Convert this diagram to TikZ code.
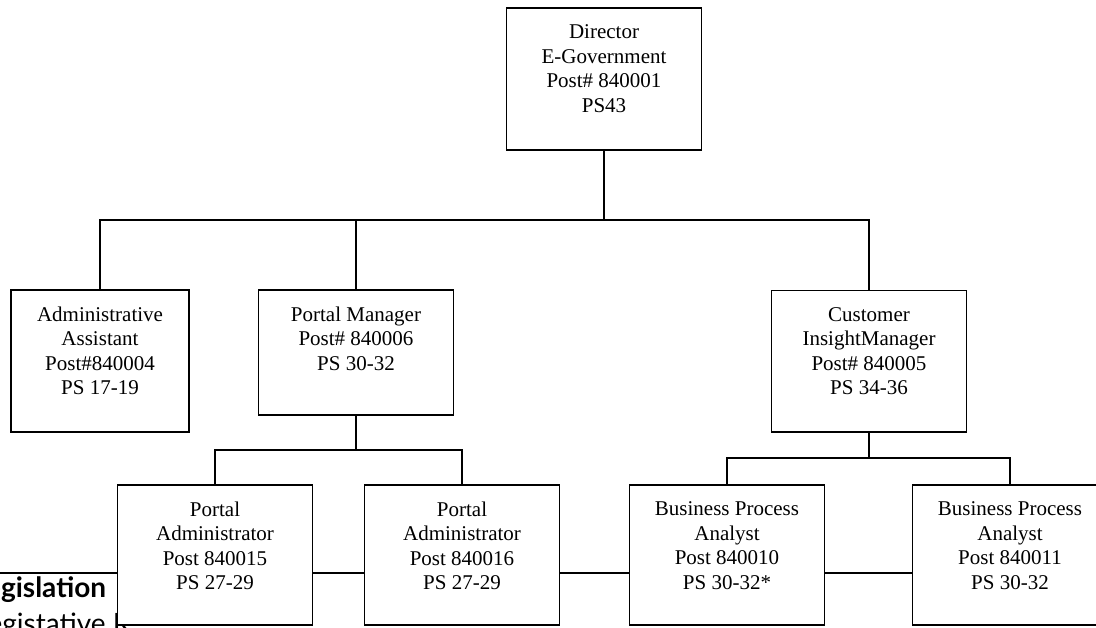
\documentclass[tikz,border=0pt]{standalone}
\usepackage{fontspec}
\setmainfont{Liberation Serif}
\newfontfamily\legfont{Lato}
\usetikzlibrary{positioning}

\begin{document}
\begin{tikzpicture}[x=0.5pt, y=0.5pt, line width=0.9pt,
    post/.style={draw, fill=white, inner sep=0pt, minimum width=97.5pt, minimum height=71pt},
    txt/.style={align=center, inner sep=0pt, font=\fontsize{10.5}{12.2}\selectfont}]
        \useasboundingbox (0,0) rectangle (1096,-627);
        \clip (0,0) rectangle (1096,-627);

        % text under the first box
        \node[anchor=base east, inner sep=0pt, font=\legfont\bfseries\fontsize{14}{16}\selectfont] (leg) at (107,-597) {Legislation};
        \node[anchor=base west, inner sep=0pt, font=\legfont\fontsize{14}{16}\selectfont] (legr) at ([xshift=1pt, yshift=-18pt]leg.base west) {Legistative R};

        \node[post]                       (dir)  at (604,-79) {};
        \node[post, minimum width=89pt]   (adm)  at (100,-361) {};
        \node[post, minimum height=62.5pt] (pm)  at (356,-352.5) {};
        \node[post, minimum height=70.75pt] (cim) at (869,-361.3) {};
        \node[post, minimum height=70pt]  (pa1)  at (215,-555) {};
        \node[post, minimum height=70pt]  (pa2)  at (462,-555) {};
        \node[post, minimum height=70pt]  (bpa1) at (727,-555) {};
        \node[post, minimum height=70pt]  (bpa2) at (1010,-555) {};

        \coordinate (bus)    at (604,-220);
        \coordinate (pmbus)  at (356,-450);
        \coordinate (cimbus) at (869,-458);
        \coordinate (lt)     at (0,-573);

        \draw (dir.south) -- (bus);
        \draw (adm.north) |- (bus) -| (cim.north);
        \draw (pm.north) -- (pm.north |- bus);
        \draw (pm.south) -- (pmbus);
        \draw (pa1.north) |- (pmbus) -| (pa2.north);
        \draw (cim.south) -- (cimbus);
        \draw (bpa1.north) |- (cimbus) -| (bpa2.north);
        \draw (lt) -- (lt -| pa1.west);
        \draw (pa1.east |- lt) -- (pa2.west |- lt);
        \draw (pa2.east |- lt) -- (bpa1.west |- lt);
        \draw (bpa1.east |- lt) -- (bpa2.west |- lt);

        \node[txt, below=8.5pt of dir.north]  (dirt)  {Director\\E-Government\\Post\# 840001\\PS43};
        \node[txt, below=8.5pt of adm.north]  (admt)  {Administrative\\Assistant\\Post\#840004\\PS 17-19};
        \node[txt, below=8.5pt of pm.north]   (pmt)   {Portal Manager\\Post\# 840006\\PS 30-32};
        \node[txt, below=8.5pt of cim.north]  (cimt)  {Customer\\InsightManager\\Post\# 840005\\PS 34-36};
        \node[txt, below=8.5pt of pa1.north]  (pa1t)  {Portal\\Administrator\\Post 840015\\PS 27-29};
        \node[txt, below=8.5pt of pa2.north]  (pa2t)  {Portal\\Administrator\\Post 840016\\PS 27-29};
        \node[txt, below=8.5pt of bpa1.north] (bpa1t) {Business Process\\Analyst\\Post 840010\\PS 30-32*};
        \node[txt, below=8.5pt of bpa2.north] (bpa2t) {Business Process\\Analyst\\Post 840011\\PS 30-32};
      \end{tikzpicture}
\end{document}
